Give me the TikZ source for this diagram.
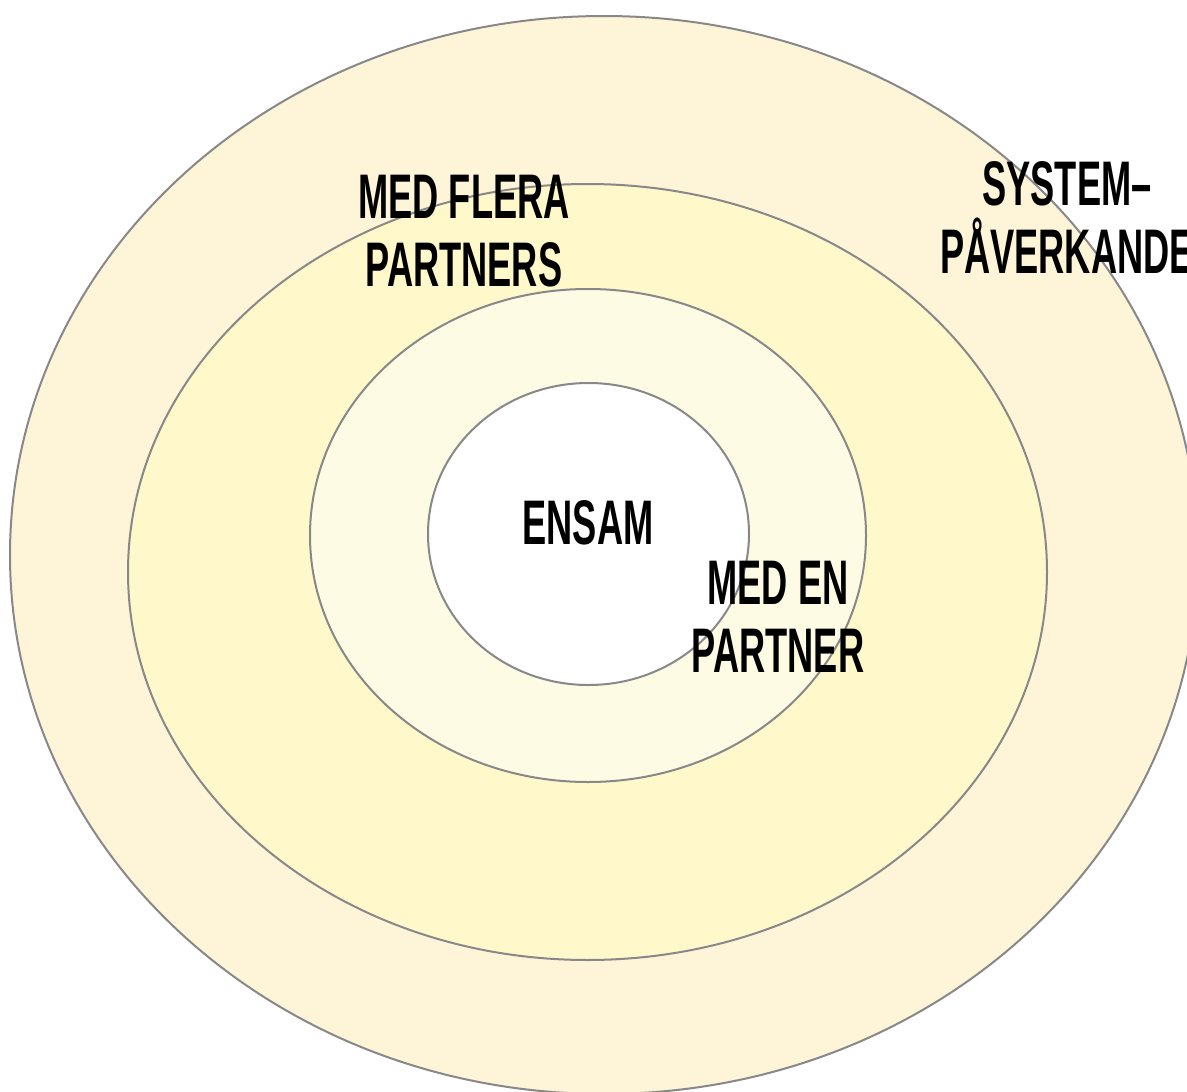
\documentclass[tikz,border=0pt]{standalone}
\usepackage{fontspec}
\setmainfont{Liberation Sans}[FakeStretch=0.575]
\definecolor{ringA}{HTML}{FEF4D8}
\definecolor{ringB}{HTML}{FEF8CB}
\definecolor{ringC}{HTML}{FEFBE5}
\definecolor{edge}{HTML}{888888}
\begin{document}
\begin{tikzpicture}[x=1pt,y=-1pt,
  ring/.style={draw=edge,line width=2pt},
  lbl/.style={inner sep=0pt,align=center,font=\bfseries\fontsize{63}{68}\selectfont}]
\useasboundingbox (0,0) rectangle (1187,1092);
\clip (0,0) rectangle (1187,1092);
\draw[ring,fill=ringA] (604,555) ellipse [x radius=594,y radius=539];
\draw[ring,fill=ringB] (587.5,572) ellipse [x radius=459.5,y radius=388];
\draw[ring,fill=ringC] (588,535.5) ellipse [x radius=278,y radius=246.5];
\draw[ring,fill=white] (588.5,534) ellipse [x radius=160.5,y radius=151];
\node[lbl] (sys) at (1067,217.5) {SYSTEM–\\PÅVERKANDE};
\node[lbl] (flera) at (464,231.5) {MED FLERA\\PARTNERS};
\node[lbl] (ensam) at (588,522.5) {ENSAM};
\node[lbl] (en) at (778,616.5) {MED EN\\PARTNER};
\end{tikzpicture}
\end{document}
